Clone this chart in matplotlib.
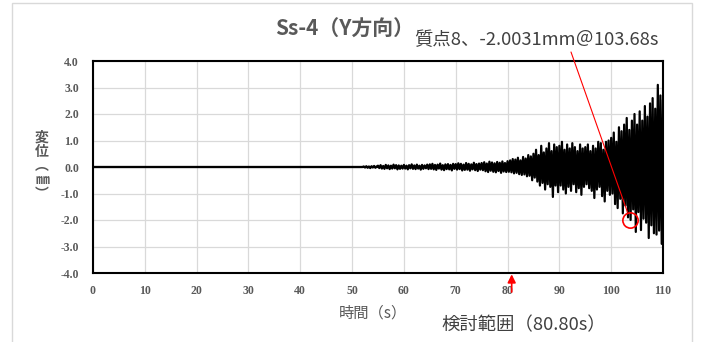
import numpy as np
import matplotlib
matplotlib.use("Agg")
import matplotlib.pyplot as plt
from matplotlib.patches import Rectangle

plt.rcParams['font.family'] = ['Noto Sans CJK JP', 'DejaVu Sans']

# displacement of mass point 8 (mm), sampled every 0.25 s from 52 s; zero before that
t_start = 52.0
dt = 0.25
disp = [
    # 52-55
    0.00, 0.02, -0.02, 0.03, -0.03, 0.02, -0.04, 0.03, -0.02, 0.04, -0.03, 0.02,
    # 55-60
    0.05, -0.04, 0.07, -0.06, 0.04, -0.07, 0.08, -0.05, 0.06, -0.08,
    0.05, -0.06, 0.09, -0.05, 0.07, -0.09, 0.06, -0.07, 0.05, -0.06,
    # 60-65
    0.08, -0.06, 0.05, -0.09, 0.07, -0.05, 0.10, -0.07, 0.06, -0.08,
    0.09, -0.06, 0.05, -0.10, 0.08, -0.07, 0.06, -0.05, 0.09, -0.08,
    # 65-70
    0.10, -0.07, 0.12, -0.09, 0.08, -0.11, 0.09, -0.06, 0.13, -0.10,
    0.07, -0.12, 0.10, -0.08, 0.11, -0.09, 0.08, -0.13, 0.12, -0.07,
    # 70-75
    0.11, -0.10, 0.14, -0.08, 0.12, -0.13, 0.09, -0.11, 0.15, -0.10,
    0.12, -0.14, 0.10, -0.09, 0.16, -0.12, 0.11, -0.15, 0.13, -0.10,
    # 75-80
    0.15, -0.12, 0.18, -0.16, 0.13, -0.19, 0.20, -0.14, 0.17, -0.18,
    0.14, -0.20, 0.19, -0.15, 0.16, -0.22, 0.21, -0.17, 0.15, -0.19,
    # 80-85
    0.22, -0.18, 0.25, -0.20, 0.30, -0.24, 0.28, -0.22, 0.35, -0.27,
    0.25, -0.30, 0.38, -0.28, 0.32, -0.35, 0.45, -0.33, 0.40, -0.50,
    # 85-90
    0.50, -0.40, 0.65, -0.55, 0.45, -0.70, 0.80, -0.60, 0.55, -0.85,
    0.70, -0.65, 0.90, -0.75, 0.60, -1.13, 0.85, -0.70, 0.75, -0.95,
    # 90-95
    0.80, -0.70, 0.95, -0.85, 0.65, -1.00, 0.85, -0.75, 0.70, -0.90,
    0.90, -0.65, 0.75, -0.95, 0.60, -0.80, 0.85, -1.05, 0.70, -0.75,
    # 95-100
    0.75, -0.65, 0.85, -0.80, 0.60, -0.90, 0.80, -1.17, 0.70, -0.85,
    0.95, -0.75, 0.90, -1.10, 0.65, -1.30, 0.95, -0.90, 1.00, -1.05,
    # 100-105
    1.10, -1.00, 1.30, -1.40, 0.95, -1.55, 1.50, -1.20, 1.35, -1.75,
    1.60, -1.45, 1.85, -1.90, 1.40, -2.00, 1.75, -1.60, 2.00, -2.45,
    # 105-110
    1.60, -1.70, 2.10, -2.38, 1.75, -1.95, 2.30, -2.10, 1.90, -2.68,
    2.40, -2.20, 2.60, -2.50, 2.20, -2.55, 3.10, -2.40, 2.70, -2.90, 2.50,
]

peak_time = 103.68
peak_value = -2.0031
check_time = 80.80

title = 'Ss-4（Y方向）'
peak_label = '質点8、-2.0031mm＠103.68s'
check_label = '検討範囲（80.80s）'
x_ticks = list(range(0, 111, 10))
y_ticks = [-4.0, -3.0, -2.0, -1.0, 0.0, 1.0, 2.0, 3.0, 4.0]

t = t_start + dt * np.arange(len(disp))
time = np.concatenate([[0.0], t])
vals = np.concatenate([[0.0], disp])

W, H = 702, 342
fig = plt.figure(figsize=(W / 100, H / 100), dpi=100)

# light chart border
fig.patches.append(Rectangle((12 / W, -0.1), 680 / W, 1.1 - 3 / H, transform=fig.transFigure,
                             fill=False, edgecolor='#d9d9d9', lw=1.0))

ax = fig.add_axes([93 / W, 69 / H, 570 / W, 212 / H])
ax.plot(time, vals, color='black', lw=1.6, zorder=3)
ax.axhline(0, color='black', lw=1.5, zorder=2)

ax.set_xlim(0, 110)
ax.set_ylim(-4, 4)
ax.set_xticks(x_ticks)
ax.set_yticks(y_ticks)
ax.set_yticklabels([f'{v:.1f}' for v in y_ticks])
ax.grid(True, color='#d9d9d9', lw=0.9, zorder=0)
ax.tick_params(length=0, labelsize=8.5, labelcolor='#595959')
ax.tick_params(axis='y', pad=10)
ax.tick_params(axis='x', pad=9)
for lab in ax.get_xticklabels() + ax.get_yticklabels():
    lab.set_family('Liberation Serif')
    lab.set_fontweight('bold')
for s in ax.spines.values():
    s.set_linewidth(1.5)
    s.set_color('black')

# titles / labels
fig.text(345 / W, 1 - 29 / H, title, ha='center', va='center', fontsize=15,
         fontweight='bold', color='#595959')
fig.text(373 / W, 1 - 313 / H, '時間（s）', ha='center', va='center', fontsize=11,
         color='#595959')
fig.text(42 / W, 1 - 166 / H, '変\n位\n︵\n㎜\n︶', ha='center', va='center', fontsize=10,
         fontweight='bold', color='#595959', linespacing=1.0)

# peak annotation
fig.text(414 / W, 1 - 40 / H, peak_label, ha='left', va='center', fontsize=13.2,
         color='#404040')
ax.plot([peak_time], [peak_value], marker='o', ms=11, mfc='none', mec='red', mew=1.2,
        zorder=5, clip_on=False)
ax.annotate('', xy=(peak_time, peak_value), xytext=(571, H - 52), textcoords='figure pixels',
            arrowprops=dict(arrowstyle='-', color='red', lw=0.8, shrinkA=0, shrinkB=6),
            annotation_clip=False, zorder=6)

# check range arrow
ax.annotate('', xy=(check_time, -4.05), xytext=(check_time, -4.72), textcoords='data',
            arrowprops=dict(arrowstyle='-|>', color='red', lw=1.2, mutation_scale=12,
                            shrinkA=0, shrinkB=0),
            annotation_clip=False)
fig.text(441 / W, 1 - 325 / H, check_label, ha='left', va='center', fontsize=13.2,
         color='#404040')

fig.savefig('out.png', dpi=100)
